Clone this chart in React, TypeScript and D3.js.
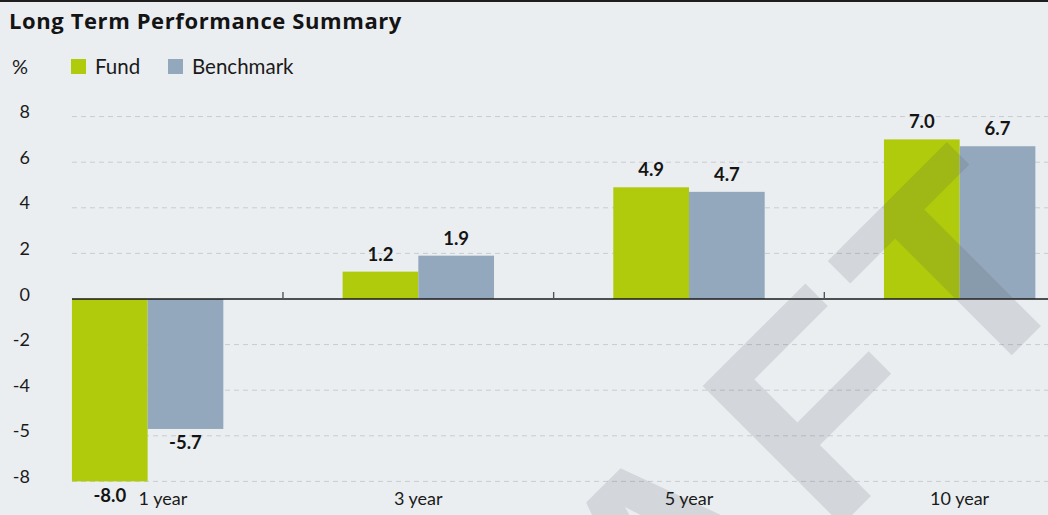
import React from "react";
import * as d3 from "d3";

const categories = ["1 year", "3 year", "5 year", "10 year"];
const seriesNames = ["Fund", "Benchmark"];
const fundValues = [-8.0, 1.2, 4.9, 7.0];
const benchmarkValues = [-5.7, 1.9, 4.7, 6.7];
const yTickValues = [8, 6, 4, 2, 0, -2, -4, -6, -8];
const yTickLabels = ["8", "6", "4", "2", "0", "-2", "-4", "-5", "-8"];
const title = "Long Term Performance Summary";
const unitLabel = "%";
const watermark = "DRAFT";

const W = 1048;
const H = 515;
const BG = "#ebeef1";
const COLORS = ["#b0cb0b", "#93a8bc"];
const FONT = "Lato, 'Open Sans', sans-serif";

export default function App() {
  const y = d3.scaleLinear().domain([-8, 8]).range([481.4, 116.6]);
  const x = d3.scaleBand<string>().domain(categories).range([12.3, 1095]).padding(0);
  const step = x.bandwidth();
  const groupW = 151.4;
  const inner = d3
    .scaleBand<string>()
    .domain(seriesNames)
    .range([(step - groupW) / 2, (step + groupW) / 2])
    .padding(0);
  const values = [fundValues, benchmarkValues];
  const gridX0 = 72;
  const y0 = y(0);

  const bars: any[] = [];
  const labels: any[] = [];
  seriesNames.forEach((s, si) => {
    values[si].forEach((v, ci) => {
      const bx = (x(categories[ci]) as number) + (inner(s) as number);
      const bw = inner.bandwidth();
      const top = Math.min(y(v), y0);
      const h = Math.abs(y(v) - y0);
      bars.push(
        <rect key={`b${si}-${ci}`} x={bx} y={top} width={bw} height={h} fill={COLORS[si]} />
      );
      const ly = v >= 0 ? y(v) - 11 : y(v) + 20.5;
      labels.push({ x: bx + bw / 2, y: ly, text: v.toFixed(1), key: `l${si}-${ci}` });
    });
  });

  // category labels with simple collision avoidance against data labels
  const catFont = 18;
  const approxW = (t: string, fs: number, k = 0.5) => t.length * fs * k;
  const catLabels = categories.map((c) => {
    let cx = (x(c) as number) + step / 2;
    const cw = approxW(c, catFont, 0.45);
    labels.forEach((l) => {
      if (l.y > 490) {
        const lw = approxW(l.text, 18, 0.55);
        const lRight = l.x + lw / 2;
        const cLeft = cx - cw / 2;
        if (cLeft < lRight + 6 && cx + cw / 2 > l.x - lw / 2) {
          cx = lRight + 9 + cw / 2;
        }
      }
    });
    return { c, cx };
  });

  const boundaries = categories.slice(1).map((c) => x(c) as number);

  return (
    <div style={{ position: "absolute", left: 0, top: 0, width: W, height: H }}>
      <svg width={W} height={H} style={{ display: "block" }} fontFamily={FONT}>
        <rect x={0} y={0} width={W} height={H} fill={BG} />
        <rect x={0} y={0} width={W} height={2} fill="#1e1e1e" />
        <text
          x={9}
          y={28.5}
          fontSize={22}
          fontWeight={700}
          letterSpacing={0.6}
          fontFamily="'Open Sans', sans-serif"
          fill="#141414"
        >
          {title}
        </text>
        <text x={12} y={74} fontSize={20} fill="#1a1a1a">
          {unitLabel}
        </text>
        {seriesNames.map((s, i) => {
          const lx = [71, 168][i];
          return (
            <g key={s}>
              <rect x={lx} y={59} width={15} height={15} fill={COLORS[i]} />
              <text x={lx + 24} y={74} fontSize={20.5} fill="#1a1a1a">
                {s}
              </text>
            </g>
          );
        })}
        {yTickValues.map((v, i) => (
          <g key={`g${v}`}>
            {v !== 0 && (
              <line
                x1={gridX0}
                x2={W}
                y1={y(v)}
                y2={y(v)}
                stroke="#c8ccd0"
                strokeWidth={1}
                strokeDasharray="5,4"
              />
            )}
            <text x={30} y={y(v) + 1.5} fontSize={18} textAnchor="end" fill="#1a1a1a">
              {yTickLabels[i]}
            </text>
          </g>
        ))}
        {bars}
        <line x1={gridX0} x2={W} y1={y0} y2={y0} stroke="#1a1a1a" strokeWidth={1.4} />
        {boundaries.map((bx, i) => (
          <line key={`t${i}`} x1={bx} x2={bx} y1={y0 - 7} y2={y0} stroke="#555" strokeWidth={1.4} />
        ))}
        <text
          transform="translate(352,1015) rotate(-45)"
          fontFamily="'Liberation Sans', Arial, sans-serif"
          fontWeight={700}
          fontSize={286}
          letterSpacing={18}
          fill="#4a5058"
          fillOpacity={0.15}
        >
          {watermark}
        </text>
        {labels.map((l) => (
          <text key={l.key} x={l.x} y={l.y} fontSize={18.5} fontWeight={700} textAnchor="middle" fill="#141414">
            {l.text}
          </text>
        ))}
        {catLabels.map(({ c, cx }) => (
          <text key={c} x={cx} y={505} fontSize={catFont} textAnchor="middle" fill="#1a1a1a">
            {c}
          </text>
        ))}
      </svg>
    </div>
  );
}
